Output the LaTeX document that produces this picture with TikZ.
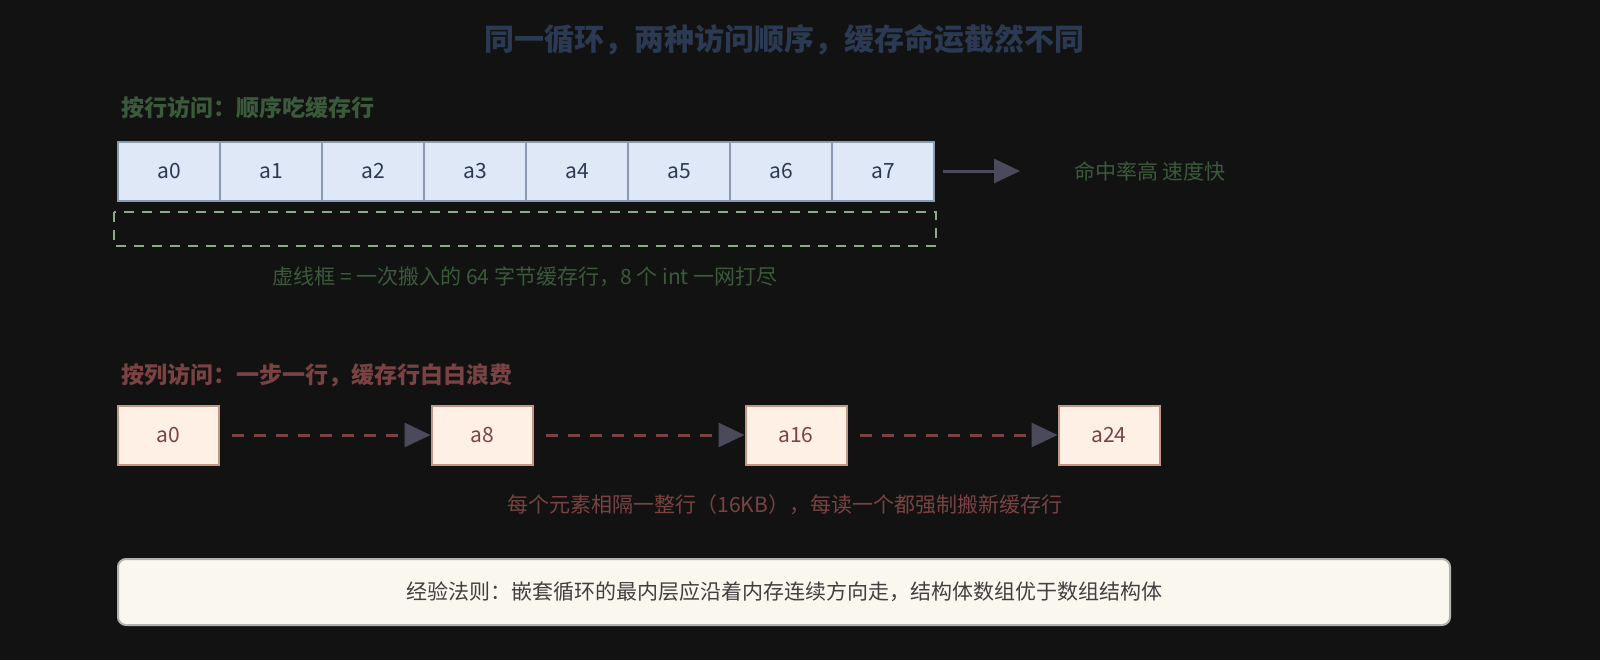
\documentclass[tikz,border=0pt]{standalone}
\usepackage{fontspec}
\setmainfont{Noto Sans CJK SC}
\usetikzlibrary{positioning,arrows.meta}
\definecolor{bg}{HTML}{121212}
\definecolor{titleblue}{HTML}{2B3A52}
\definecolor{rowgreen}{HTML}{3B5A3B}
\definecolor{dashgreen}{HTML}{8AAA8A}
\definecolor{colred}{HTML}{7A4242}
\definecolor{cellfill}{HTML}{DEE8F6}
\definecolor{celldraw}{HTML}{8A9AB0}
\definecolor{boxfill}{HTML}{FFF0E6}
\definecolor{boxdraw}{HTML}{C49484}
\definecolor{arrowgray}{HTML}{4A4A5A}
\definecolor{rulefill}{HTML}{FAF7EF}
\tikzset{
  cell/.style={draw=celldraw, line width=1pt, fill=cellfill, minimum width=51pt, minimum height=29.5pt, inner sep=0pt, text=titleblue, font=\fontsize{10.5}{12}\selectfont},
  strided/.style={draw=boxdraw, line width=1pt, fill=boxfill, minimum width=50.5pt, minimum height=29.5pt, inner sep=0pt, text=colred, font=\fontsize{10.5}{12}\selectfont},
  jump/.style={draw=colred, line width=1.5pt, dash pattern=on 6pt off 5pt, -{Triangle[length=13pt,width=12pt,fill=arrowgray,color=arrowgray]}},
}
\begin{document}
\begin{tikzpicture}[x=0.5pt,y=-0.5pt]
            \fill[bg] (0,0) rectangle (1600,660);

            % Title
            \node[text=titleblue, font=\fontsize{15}{17}\selectfont\bfseries] (title) at (784,40) {同一循环，两种访问顺序，缓存命运截然不同};

            % Row access
            \node[anchor=west, text=rowgreen, font=\fontsize{11.5}{13}\selectfont\bfseries] (rowhead) at (114,108) {按行访问：顺序吃缓存行};
            \foreach \i in {0,...,7}
                \node[cell] (c\i) at (169+\i*102,171) {a\i};
            \draw[dashgreen, line width=1pt, dash pattern=on 5pt off 4pt] (114,212) rectangle (936,246);
            \node[text=rowgreen, font=\fontsize{10.5}{12}\selectfont] (rowcap) at (525,277) {虚线框 = 一次搬入的 64 字节缓存行，8 个 int 一网打尽};
            \node[text=rowgreen, font=\fontsize{10.5}{12}\selectfont] (hit) at (1150,171) {命中率高 速度快};
            \coordinate (hitend) at (1020,171);
            \draw[arrowgray, line width=1.5pt, -{Triangle[length=13pt,width=12pt]}] ([xshift=4pt]c7.east) -- (hitend);

            % Column access
            \node[anchor=west, text=colred, font=\fontsize{11.5}{13}\selectfont\bfseries] (colhead) at (114,375) {按列访问：一步一行，缓存行白白浪费};
            \node[strided] (b0) at (168,435) {a0};
            \node[strided] (b8) at (482,435) {a8};
            \node[strided] (b16) at (796,435) {a16};
            \node[strided] (b24) at (1109,435) {a24};
            \draw[jump] ([xshift=6pt]b0.east) -- (b8.west);
            \draw[jump] ([xshift=6pt]b8.east) -- (b16.west);
            \draw[jump] ([xshift=6pt]b16.east) -- (b24.west);
            \node[text=colred, font=\fontsize{10.5}{12}\selectfont] (colcap) at (785,505) {每个元素相隔一整行（16KB），每读一个都强制搬新缓存行};

            % Rule of thumb
            \node[draw=gray!60, line width=1pt, fill=rulefill, rounded corners=4pt, minimum width=666pt, minimum height=33pt, text=black!75, font=\fontsize{10.5}{12}\selectfont] (rule) at (784,592) {经验法则：嵌套循环的最内层应沿着内存连续方向走，结构体数组优于数组结构体};

            \pgfresetboundingbox
            \useasboundingbox (0,0) rectangle (1600,660);
\end{tikzpicture}
\end{document}
